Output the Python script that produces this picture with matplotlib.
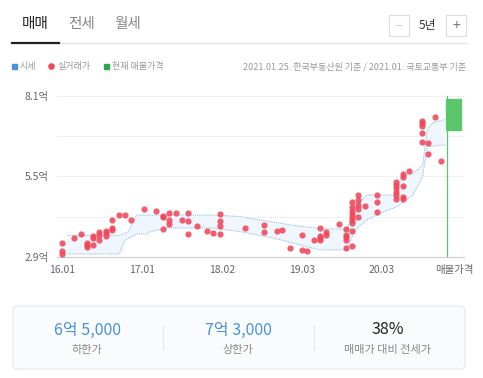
import matplotlib.pyplot as plt
from matplotlib.patches import Rectangle, FancyBboxPatch, Circle

plt.rcParams['font.family'] = ['Noto Sans CJK KR', 'DejaVu Sans']

# 시세 밴드 (상한 / 하한), 월 인덱스 (0 = 2016.01)
band_up_month = [1.0, 9.1, 10.4, 11.7, 23.6, 27.9, 35.7, 40.8, 44.6, 45.8, 47.7,
                 51.8, 53.3, 54.9, 56.4, 57.1, 57.9, 59.6, 59.9]
band_up_price = [3.59, 3.59, 3.71, 4.25, 4.25, 4.20, 3.93, 3.80, 3.80, 4.52, 4.90,
                 4.90, 5.49, 5.61, 5.87, 7.00, 7.23, 7.33, 7.36]
band_lo_month = [1.0, 9.0, 9.9, 11.8, 13.3, 13.8, 16.4, 23.6, 27.9, 33.0, 40.3,
                 44.6, 45.8, 47.7, 49.7, 52.4, 54.9, 56.4, 57.1, 59.9]
band_lo_price = [2.99, 2.99, 3.44, 3.64, 3.64, 3.71, 3.83, 3.83, 3.71, 3.51, 3.12,
                 3.12, 3.76, 4.09, 4.31, 4.52, 4.90, 5.49, 6.46, 6.52]

# 실거래가 (월 인덱스, 억)
deal_month = [0, 0, 0, 1.9, 3.0, 4.0, 4.0, 4.0, 4.9, 4.9, 4.9, 5.9, 5.9, 5.9,
              6.9, 6.9, 6.9, 7.9, 7.9, 7.9, 9.0, 9.9, 10.8, 12.9, 14.8,
              15.8, 15.8, 15.8, 16.8, 16.8, 16.8, 17.8, 18.8, 19.7, 19.7, 19.7,
              21.1, 22.7, 23.6, 24.7, 24.7, 24.7, 24.7, 28.6, 31.6, 31.6,
              33.6, 34.5, 35.7, 37.5, 37.5, 38.4, 39.4,
              40.4, 40.4, 40.4, 40.4, 41.3, 41.3, 43.4,
              44.4, 44.4, 44.4, 44.4, 44.4,
              45.4, 45.4, 45.4, 45.4, 45.4, 45.4, 45.4, 45.4, 45.4,
              46.3, 46.3, 46.3, 46.3, 46.3, 47.4, 49.3, 49.3, 49.3,
              52.2, 52.2, 52.2, 52.2, 52.2, 52.2,
              53.3, 53.3, 53.3, 53.3, 53.3, 54.2,
              56.3, 56.3, 56.3, 56.3, 56.3, 57.2, 57.2, 58.3, 59.3]
deal_price = [3.33, 3.09, 2.99, 3.50, 3.64, 3.35, 3.28, 3.22, 3.57, 3.50, 3.29,
              3.69, 3.60, 3.44, 3.74, 3.68, 3.58, 4.09, 3.82, 3.76, 4.24, 4.24,
              4.09, 4.43, 4.39, 4.23, 4.18, 3.79, 4.30, 4.09, 3.96, 4.32, 4.09,
              4.30, 4.07, 3.64, 3.90, 3.74, 3.66, 4.27, 4.06, 3.89, 3.64, 3.82,
              3.93, 3.69, 3.74, 3.76, 3.19, 3.60, 3.12, 3.08, 3.43,
              3.83, 3.58, 3.51, 3.43, 3.69, 3.61, 3.96,
              3.79, 3.60, 3.53, 3.44, 3.19,
              4.66, 4.52, 4.38, 4.27, 4.18, 4.09, 4.00, 3.72, 3.26,
              4.90, 4.74, 4.56, 4.43, 4.20, 4.54, 4.89, 4.68, 4.35,
              5.33, 5.22, 5.11, 5.00, 4.90, 4.77,
              5.58, 5.47, 5.19, 4.84, 4.77, 5.68,
              7.30, 7.22, 7.13, 6.92, 6.61, 6.57, 6.22, 7.43, 6.01]

# 현재 매물가격
listing_low = 7.0
listing_high = 8.0

y_ticks = [2.9, 5.5, 8.1]
y_grid = [2.9, 4.2, 5.5, 6.8, 8.1]
x_labels = ['16.01', '17.01', '18.02', '19.03', '20.03']
x_label_pos = [0, 12.5, 25, 37.5, 50]

summary_values = ['6억 5,000', '7억 3,000', '38%']
summary_names = ['하한가', '상한가', '매매가 대비 전세가']

BLUE_LINE = '#86b6e6'
BAND_FILL = '#f0f6fd'
RED = '#f0475a'
GREEN = '#5cc66b'

fig = plt.figure(figsize=(4.83, 3.78), dpi=100)

# 화면 요소용 픽셀 좌표 축
ui = fig.add_axes([0, 0, 1, 1])
ui.set_xlim(0, 483)
ui.set_ylim(378, 0)
ui.axis('off')

# 탭
ui.text(35, 24, '매매', fontsize=10.5, color='#222', ha='center', va='center')
ui.text(82, 24, '전세', fontsize=10.5, color='#888', ha='center', va='center')
ui.text(128, 24, '월세', fontsize=10.5, color='#888', ha='center', va='center')
ui.plot([59, 466], [43, 43], color='#e2e2e2', lw=1)
ui.plot([12, 59], [43, 43], color='#222', lw=1.6)

# 기간 선택
ui.add_patch(Rectangle((389, 15), 20, 21, fill=False, ec='#dddddd', lw=0.8))
ui.add_patch(Rectangle((446, 15), 20, 21, fill=False, ec='#dddddd', lw=0.8))
ui.text(399, 25.5, '−', fontsize=9, color='#cccccc', ha='center', va='center')
ui.text(456, 25.5, '+', fontsize=10, color='#777', ha='center', va='center')
ui.text(427, 25, '5년', fontsize=8.5, color='#333', ha='center', va='center')

# 범례
ui.add_patch(Rectangle((12, 64), 4.5, 4.5, color='#4a90e2'))
ui.text(20, 66.5, '시세', fontsize=6.5, color='#999', va='center')
ui.add_patch(Circle((51.5, 66.5), 2.6, color=RED))
ui.text(57, 66.5, '실거래가', fontsize=6.5, color='#999', va='center')
ui.add_patch(Rectangle((104, 64), 4.5, 4.5, color='#2aa84a'))
ui.text(112, 66.5, '현재 매물가격', fontsize=6.5, color='#999', va='center')
ui.text(466, 66.5, '2021.01.25. 한국부동산원 기준 / 2021.01. 국토교통부 기준',
        fontsize=6.5, color='#999', va='center', ha='right')

# 요약 박스
ui.add_patch(FancyBboxPatch((13, 306), 452, 63, boxstyle='round,pad=0,rounding_size=5',
                            fc='#fafbfc', ec='#e6e8ea', lw=0.8))
ui.plot([163, 163], [325, 350], color='#e6e8ea', lw=0.8)
ui.plot([314, 314], [325, 350], color='#e6e8ea', lw=0.8)
centers = [87, 238, 388]
colors = ['#4a90e2', '#4a90e2', '#222']
for cx, val, name, c in zip(centers, summary_values, summary_names, colors):
    ui.text(cx, 330, val, fontsize=11.5, color=c, ha='center', va='center')
    ui.text(cx, 350, name, fontsize=8, color='#888', ha='center', va='center')

# 차트
ax = fig.add_axes([57 / 483, 1 - 256.7 / 378, 407 / 483, 166.7 / 378])
ax.set_xlim(-0.73, 62.86)
ax.set_ylim(2.9, 8.3)
ax.patch.set_alpha(0)
for s in ['top', 'right', 'left']:
    ax.spines[s].set_visible(False)
ax.spines['bottom'].set_color('#cccccc')
ax.spines['bottom'].set_linewidth(0.8)

for g in y_grid[1:]:
    ax.axhline(g, color='#f0f0f0', lw=0.8, zorder=0)

poly_x = band_up_month + band_lo_month[::-1]
poly_y = band_up_price + band_lo_price[::-1]
ax.fill(poly_x, poly_y, color=BAND_FILL, lw=0, zorder=1)
ax.plot(band_up_month, band_up_price, color=BLUE_LINE, lw=0.7, ls=(0, (1, 1)), zorder=2)
ax.plot(band_lo_month, band_lo_price, color=BLUE_LINE, lw=0.7, ls=(0, (1, 1)), zorder=2)

ax.scatter(deal_month, deal_price, s=20, color=RED, alpha=0.88, lw=0, zorder=3)

ax.axvline(60.2, ymin=0, ymax=(8.1 - 2.9) / (8.3 - 2.9), color=GREEN, lw=0.9, zorder=2)
ax.add_patch(Rectangle((60.0, listing_low), 2.4, listing_high - listing_low,
                       color=GREEN, zorder=3))

ax.set_yticks(y_ticks)
ax.set_yticklabels([f'{v}억' for v in y_ticks])
ax.set_xticks(x_label_pos + [61.4])
ax.set_xticklabels(x_labels + ['매물가격'])
ax.tick_params(axis='both', length=0, labelsize=7.5, colors='#666')
ax.tick_params(axis='y', pad=6)
ax.tick_params(axis='x', pad=6)

fig.savefig('out.png', dpi=100)
